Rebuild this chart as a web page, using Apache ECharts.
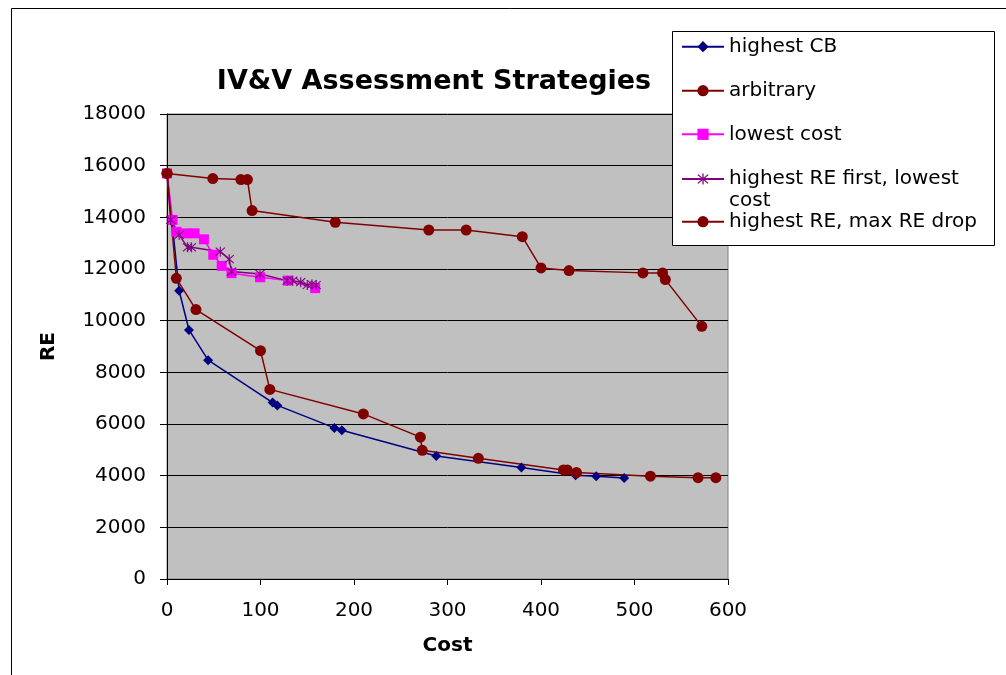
<!DOCTYPE html>
<html><head><meta charset="utf-8">
<script src="https://cdn.jsdelivr.net/npm/echarts@6/dist/echarts.min.js"></script>
<style>html,body{margin:0;padding:0;background:#fff}#c{width:1006px;height:675px}</style>
</head><body><div id="c"></div>
<script>
const seriesNames = ['highest CB','arbitrary','lowest cost','highest RE first, lowest cost','highest RE, max RE drop'];

const costHighestCB = [0, 13, 23.5, 44, 113, 118, 179, 187, 288, 379, 437, 459, 489];
const reHighestCB   = [15700, 11160, 9640, 8470, 6830, 6720, 5850, 5760, 4760, 4320, 4020, 3980, 3910];

const costArbitrary = [0, 49, 79, 86, 91, 180, 280, 320, 380, 400, 430, 509, 530, 533, 572];
const reArbitrary   = [15700, 15500, 15460, 15460, 14260, 13810, 13510, 13510, 13250, 12040, 11940, 11850, 11850, 11590, 9780];

const costLowest = [0, 6, 10, 20.5, 29.5, 39.5, 49.5, 58.5, 69, 99.5, 129.5, 158.5];
const reLowest   = [15700, 13900, 13440, 13380, 13380, 13150, 12550, 12120, 11840, 11680, 11550, 11260];

const costHighREFirst = [0, 4, 13, 22, 26, 57, 66.5, 69, 99.5, 128.5, 134.5, 143, 150, 155, 159.5];
const reHighREFirst   = [15700, 13900, 13320, 12840, 12840, 12670, 12380, 11900, 11810, 11550, 11550, 11490, 11380, 11410, 11380];

const costMaxDrop = [0, 10, 31, 100, 110, 210, 271, 273, 333, 424, 428, 438, 517, 568, 587];
const reMaxDrop   = [15700, 11640, 10430, 8840, 7340, 6390, 5490, 4980, 4670, 4220, 4220, 4120, 3980, 3920, 3920];

const xTicks = [0, 100, 200, 300, 400, 500, 600];
const yTicks = [0, 2000, 4000, 6000, 8000, 10000, 12000, 14000, 16000, 18000];

function zip(a, b) { return a.map((v, i) => [v, b[i]]); }

const starPath = 'path://M9 0L11 0L11 20L9 20Z M1.3 2.7L2.7 1.3L18.7 17.3L17.3 18.7Z M17.3 1.3L18.7 2.7L2.7 18.7L1.3 17.3Z';

const FONT = 'DejaVu Sans';
const chart = echarts.init(document.getElementById('c'), null, {renderer: 'canvas'});

function mkSeries(name, data, color, symbol, size, z) {
  return {
    name, type: 'line', data, symbol, symbolSize: size, z,
    lineStyle: {color, width: 1.5}, itemStyle: {color, borderWidth: 0},
    emphasis: {disabled: true}, animation: false
  };
}

const legendCenters = [46.7, 90.7, 134.3, 179, 221.7];
const legends = seriesNames.map((n, i) => {
  const two = i === 3;
  return {
    data: [n], orient: 'vertical', left: 681,
    top: two ? legendCenters[i] - 33 : legendCenters[i] - 11,
    padding: 0, itemWidth: 42, itemHeight: 14, itemGap: 0,
    selectedMode: false, z: 5,
    formatter: two ? () => '\nhighest RE first, lowest\ncost' : undefined,
    textStyle: {fontFamily: FONT, fontSize: 20, color: '#000', lineHeight: 22}
  };
});

chart.setOption({
  animation: false,
  backgroundColor: '#fff',
  title: {
    text: 'IV&V Assessment Strategies', left: 429, top: 63, textAlign: 'center',
    textStyle: {fontFamily: FONT, fontWeight: 'bold', fontSize: 27, color: '#000'}
  },
  legend: legends,
  grid: {left: 167, top: 114, right: 278, bottom: 96, show: true,
    backgroundColor: '#C0C0C0', borderColor: '#808080', borderWidth: 1},
  xAxis: {
    type: 'value', min: xTicks[0], max: xTicks[xTicks.length - 1], interval: 100,
    name: 'Cost', nameLocation: 'middle', nameGap: 57,
    nameTextStyle: {fontFamily: FONT, fontWeight: 'bold', fontSize: 20, color: '#000'},
    axisLine: {show: true, lineStyle: {color: '#000', width: 1}},
    axisTick: {show: true, inside: false, length: 6, lineStyle: {color: '#000'}},
    axisLabel: {fontFamily: FONT, fontSize: 20, color: '#000', margin: 22, formatter: v => String(v)},
    splitLine: {show: false}
  },
  yAxis: {
    type: 'value', min: yTicks[0], max: yTicks[yTicks.length - 1], interval: 2000,
    name: 'RE', nameLocation: 'middle', nameGap: 108, nameRotate: 90,
    nameTextStyle: {fontFamily: FONT, fontWeight: 'bold', fontSize: 20, color: '#000'},
    axisLine: {show: true, lineStyle: {color: '#000', width: 1}},
    axisTick: {show: true, inside: false, length: 7, lineStyle: {color: '#000'}},
    axisLabel: {fontFamily: FONT, fontSize: 20, color: '#000', margin: 21, formatter: v => String(v)},
    splitLine: {show: true, lineStyle: {color: '#000', width: 1}}
  },
  graphic: [
    {type: 'rect', z: 0, silent: true, shape: {x: 11.5, y: 8.5, width: 1200, height: 1000},
      style: {fill: 'none', stroke: '#000', lineWidth: 1}},
    {type: 'rect', z: 3, silent: true, shape: {x: 672.5, y: 31.5, width: 322, height: 214},
      style: {fill: '#fff', stroke: '#000', lineWidth: 1}}
  ],
  series: [
    mkSeries(seriesNames[0], zip(costHighestCB, reHighestCB), '#000080', 'diamond', 10, 2),
    mkSeries(seriesNames[1], zip(costArbitrary, reArbitrary), '#800000', 'circle', 11, 2),
    mkSeries(seriesNames[2], zip(costLowest, reLowest), '#FF00FF', 'rect', 10, 2),
    mkSeries(seriesNames[3], zip(costHighREFirst, reHighREFirst), '#800080', starPath, 10, 2),
    mkSeries(seriesNames[4], zip(costMaxDrop, reMaxDrop), '#800000', 'circle', 11, 2)
  ]
});
</script></body></html>
